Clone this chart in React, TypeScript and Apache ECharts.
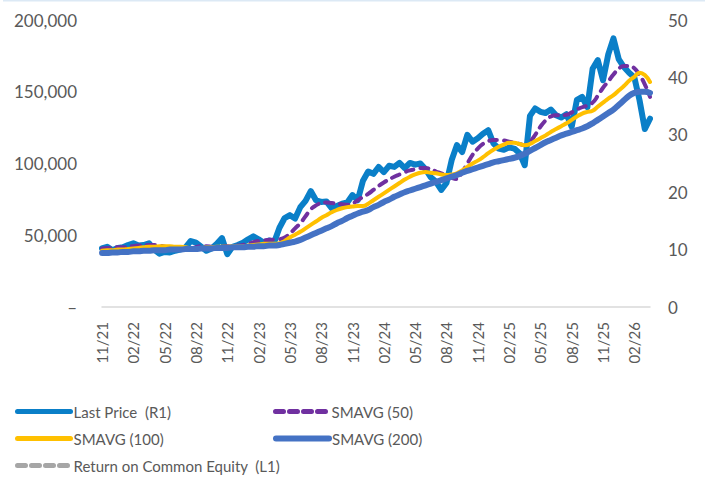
import React, { useEffect, useRef } from "react";
import * as echarts from "echarts";

// Month labels (MM/YY), each month split in two half-month points
const months = [
  "11/21", "12/21", "01/22", "02/22", "03/22", "04/22", "05/22", "06/22", "07/22", "08/22", "09/22", "10/22",
  "11/22", "12/22", "01/23", "02/23", "03/23", "04/23", "05/23", "06/23", "07/23", "08/23", "09/23", "10/23",
  "11/23", "12/23", "01/24", "02/24", "03/24", "04/24", "05/24", "06/24", "07/24", "08/24", "09/24", "10/24",
  "11/24", "12/24", "01/25", "02/25", "03/25", "04/25", "05/25", "06/25", "07/25", "08/25", "09/25", "10/25",
  "11/25", "12/25", "01/26", "02/26", "03/26",
];
const categories = months.flatMap((m) => [m, m + " H2"]);

const leftTicks = [0, 50000, 100000, 150000, 200000];
const rightTicks = [0, 10, 20, 30, 40, 50];

const lastPrice = [
  10.2, 10.5, 9.9, 10.3, 10.4, 10.8, 11.1, 10.7, 10.8, 11.1,
  10.0, 9.3, 9.6, 9.5, 9.8, 10.0, 10.4, 11.5, 11.2, 10.5,
  9.8, 10.2, 11.0, 12.0, 9.2, 10.5, 10.8, 11.2, 11.8, 12.3,
  11.8, 11.2, 11.6, 11.3, 13.8, 15.5, 16.0, 15.4, 17.4, 18.5,
  20.2, 18.6, 18.3, 18.4, 17.2, 17.6, 18.0, 18.2, 19.5, 18.6,
  22.0, 23.6, 23.2, 24.4, 23.5, 24.6, 24.4, 25.1, 24.2, 25.1,
  24.8, 25.0, 24.0, 22.6, 21.8, 20.4, 21.6, 25.6, 28.2, 27.0,
  30.0, 28.8, 29.4, 30.2, 30.8, 28.5, 27.6, 27.4, 27.8, 27.6,
  26.8, 24.7, 33.3, 34.6, 34.0, 33.8, 34.4, 33.4, 33.0, 33.6,
  31.4, 36.1, 36.6, 34.8, 41.5, 43.0, 39.5, 44.0, 46.8, 43.2,
  41.8, 40.8, 40.0, 36.0, 31.0, 32.8,
];

const smavg50 = [
  10.2, 10.3, 10.3, 10.4, 10.4, 10.5, 10.6, 10.7, 10.7, 10.8,
  10.8, 10.7, 10.5, 10.3, 10.1, 10.0, 10.0, 10.2, 10.4, 10.6,
  10.6, 10.5, 10.4, 10.5, 10.6, 10.6, 10.7, 10.8, 11.0, 11.3,
  11.5, 11.6, 11.7, 11.7, 11.8, 12.1, 12.8, 13.7, 14.6, 15.8,
  17.0, 17.7, 18.1, 18.2, 18.1, 18.0, 17.9, 17.8, 18.0, 18.6,
  19.2, 19.7, 20.4, 21.1, 21.7, 22.2, 22.7, 23.1, 23.5, 23.8,
  24.0, 24.2, 24.2, 24.0, 23.6, 23.3, 22.9, 22.5, 22.3, 23.5,
  25.0, 26.5, 27.6, 28.4, 28.9, 29.1, 29.1, 29.0, 28.8, 28.6,
  28.4, 28.2, 28.8, 30.0, 31.4, 32.5, 33.2, 33.4, 33.4, 33.5,
  33.9, 34.4, 34.8, 35.1, 35.6, 36.8, 38.2, 39.3, 40.5, 41.5,
  42.0, 42.0, 41.6, 40.4, 38.8, 36.6,
];

const smavg100 = [
  9.8, 9.9, 9.9, 10.0, 10.0, 10.1, 10.2, 10.3, 10.4, 10.5,
  10.5, 10.6, 10.6, 10.6, 10.5, 10.5, 10.4, 10.3, 10.3, 10.3,
  10.4, 10.4, 10.5, 10.5, 10.5, 10.6, 10.6, 10.6, 10.7, 10.8,
  10.9, 11.0, 11.0, 11.0, 11.1, 11.5, 12.1, 12.6, 13.1, 13.7,
  14.3, 14.9, 15.5, 16.0, 16.5, 16.9, 17.2, 17.4, 17.5, 17.6,
  17.6, 18.0, 18.6, 19.2, 19.8, 20.4, 21.0, 21.6, 22.2, 22.7,
  23.1, 23.4, 23.5, 23.4, 23.3, 23.1, 23.0, 23.1, 23.3, 23.8,
  24.4, 25.0, 25.5, 26.1, 26.8, 27.4, 27.9, 28.3, 28.6, 28.6,
  28.4, 28.2, 28.4, 28.9, 29.4, 29.9, 30.5, 31.0, 31.5, 32.0,
  32.6, 33.2, 33.7, 34.0, 34.2, 34.9, 35.6, 36.3, 36.9, 37.7,
  38.5, 39.4, 40.1, 40.8, 40.4, 39.2,
];

const smavg200 = [
  9.4, 9.4, 9.5, 9.5, 9.6, 9.6, 9.7, 9.7, 9.8, 9.8,
  9.9, 9.9, 9.9, 10.0, 10.0, 10.0, 10.1, 10.1, 10.1, 10.2,
  10.2, 10.2, 10.3, 10.3, 10.3, 10.4, 10.4, 10.4, 10.5, 10.5,
  10.6, 10.6, 10.7, 10.7, 10.8, 11.0, 11.2, 11.4, 11.7, 12.1,
  12.5, 12.9, 13.3, 13.7, 14.1, 14.6, 15.0, 15.5, 15.9, 16.3,
  16.6, 16.9, 17.4, 17.8, 18.3, 18.7, 19.2, 19.6, 20.0, 20.3,
  20.6, 20.9, 21.2, 21.5, 21.8, 22.1, 22.4, 22.7, 23.0, 23.4,
  23.7, 24.0, 24.3, 24.6, 24.9, 25.2, 25.4, 25.6, 25.8, 26.0,
  26.3, 26.7, 27.2, 27.7, 28.2, 28.7, 29.1, 29.5, 29.9, 30.2,
  30.5, 30.8, 31.1, 31.5, 32.0, 32.6, 33.2, 33.8, 34.4, 35.2,
  36.0, 36.8, 37.3, 37.5, 37.5, 37.3,
];

const returnOnEquity: number[] = [];

const NAMES = {
  lp: "Last Price  (R1)",
  s50: "SMAVG (50)",
  s100: "SMAVG (100)",
  s200: "SMAVG (200)",
  roe: "Return on Common Equity  (L1)",
};

const COLORS = {
  lp: "#0A7FC8",
  s50: "#7030A0",
  s100: "#FFC000",
  s200: "#4472C4",
  roe: "#A6A6A6",
};

const FONT = "Lato, 'Open Sans', sans-serif";
const TEXT = "#595959";

function legendAt(name: string, left: number, centerY: number, lineType: any, width: number) {
  return {
    show: true,
    data: [name],
    left,
    top: centerY - 9,
    padding: 0,
    itemWidth: 53,
    itemHeight: 18,
    itemGap: 0,
    selectedMode: false,
    itemStyle: { opacity: 0 },
    lineStyle: { width, type: lineType, cap: "round" },
    textStyle: { fontFamily: FONT, fontSize: 15, color: TEXT, padding: [0, 0, 0, -2] },
  };
}

export default function App() {
  const ref = useRef<HTMLDivElement>(null);

  useEffect(() => {
    if (!ref.current) return;
    const chart = echarts.init(ref.current, null, { renderer: "svg" });
    const lineBase = (lw: number) => ({ width: lw, join: "round", cap: "round" });
    chart.setOption({
      animation: false,
      backgroundColor: "#ffffff",
      grid: { left: 102, right: 57, top: 20, bottom: 171, containLabel: false },
      graphic: [
        {
          type: "rect",
          left: 3,
          top: 0,
          shape: { width: 702, height: 1.5 },
          style: { fill: "#DCE9F5" },
        },
      ],
      legend: [
        legendAt(NAMES.lp, 15, 413, "solid", 5),
        legendAt(NAMES.s50, 273, 413, [8, 6], 5),
        legendAt(NAMES.s100, 15, 440, "solid", 5),
        legendAt(NAMES.s200, 273, 440, "solid", 6),
        legendAt(NAMES.roe, 15, 467, [8, 6], 5),
      ],
      xAxis: {
        type: "category",
        data: categories,
        boundaryGap: false,
        axisLine: { show: true, lineStyle: { color: "#D9D9D9", width: 1.5 } },
        axisTick: { show: false },
        splitLine: { show: false },
        axisLabel: {
          interval: (index: number) => index % 6 === 0,
          formatter: (v: string) => v.slice(0, 5),
          rotate: 90,
          margin: 15,
          fontFamily: FONT,
          fontSize: 15,
          color: TEXT,
        },
      },
      yAxis: [
        {
          type: "value",
          position: "left",
          min: leftTicks[0],
          max: leftTicks[leftTicks.length - 1],
          interval: leftTicks[1] - leftTicks[0],
          axisLine: { show: false },
          axisTick: { show: false },
          splitLine: { show: false },
          axisLabel: {
            margin: 25,
            fontFamily: FONT,
            fontSize: 17,
            color: TEXT,
            formatter: (v: number) => (v === 0 ? "–" : v.toLocaleString("en-US")),
          },
        },
        {
          type: "value",
          position: "right",
          min: rightTicks[0],
          max: rightTicks[rightTicks.length - 1],
          interval: rightTicks[1] - rightTicks[0],
          axisLine: { show: false },
          axisTick: { show: false },
          splitLine: { show: false },
          axisLabel: { margin: 18, fontFamily: FONT, fontSize: 17, color: TEXT },
        },
      ],
      series: [
        {
          name: NAMES.lp,
          type: "line",
          yAxisIndex: 1,
          data: lastPrice,
          symbol: "none",
          showSymbol: false,
          smooth: false,
          color: COLORS.lp,
          lineStyle: { ...lineBase(6), color: COLORS.lp },
        },
        {
          name: NAMES.s50,
          type: "line",
          yAxisIndex: 1,
          data: smavg50,
          symbol: "none",
          showSymbol: false,
          smooth: true,
          color: COLORS.s50,
          lineStyle: { ...lineBase(4), color: COLORS.s50, type: [8, 7] },
        },
        {
          name: NAMES.s100,
          type: "line",
          yAxisIndex: 1,
          data: smavg100,
          symbol: "none",
          showSymbol: false,
          smooth: true,
          color: COLORS.s100,
          lineStyle: { ...lineBase(4), color: COLORS.s100 },
        },
        {
          name: NAMES.s200,
          type: "line",
          yAxisIndex: 1,
          data: smavg200,
          symbol: "none",
          showSymbol: false,
          smooth: true,
          color: COLORS.s200,
          lineStyle: { ...lineBase(6), color: COLORS.s200 },
        },
        {
          name: NAMES.roe,
          type: "line",
          yAxisIndex: 0,
          data: returnOnEquity,
          symbol: "none",
          showSymbol: false,
          color: COLORS.roe,
          lineStyle: { ...lineBase(4), color: COLORS.roe, type: [8, 6] },
        },
      ],
    });
    return () => chart.dispose();
  }, []);

  return (
    <div
      ref={ref}
      style={{ position: "fixed", left: 0, top: 0, width: 707, height: 478, background: "#fff" }}
    />
  );
}
